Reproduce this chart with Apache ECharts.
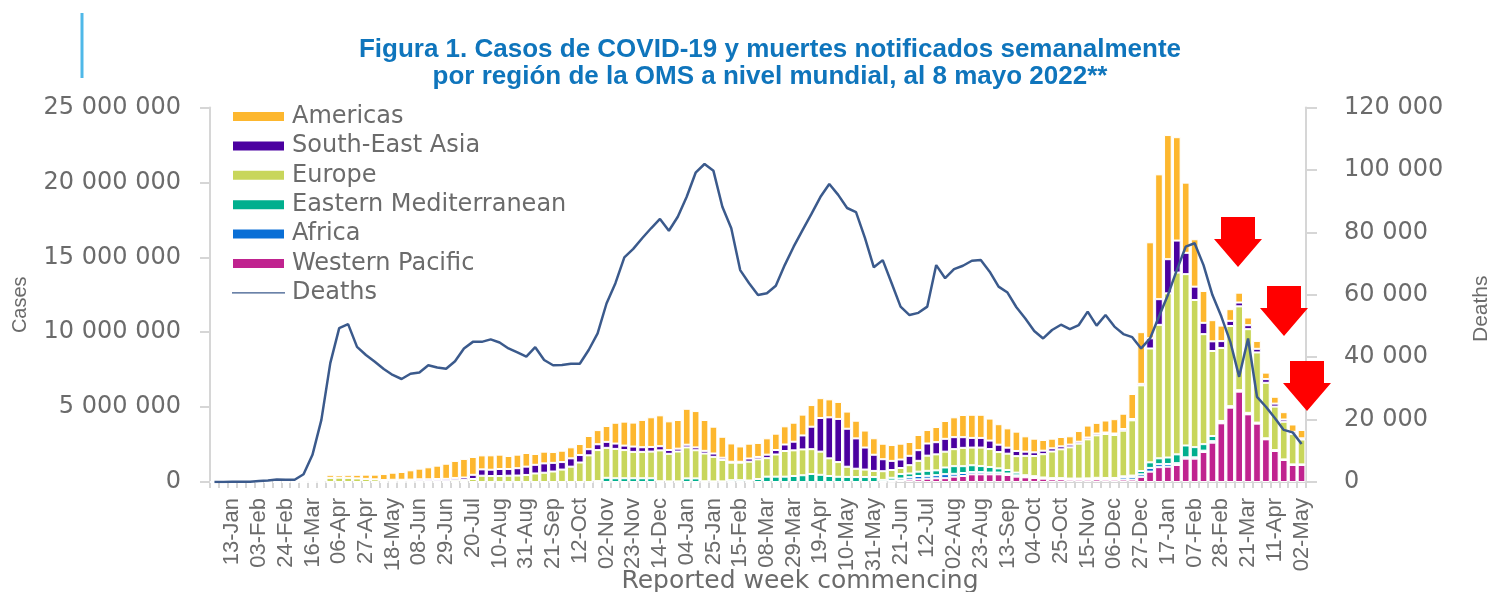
<!DOCTYPE html>
<html>
<head>
<meta charset="utf-8">
<title>Figura 1</title>
<script src="https://cdn.jsdelivr.net/npm/echarts@6/dist/echarts.min.js"></script>
<style>
html, body { margin: 0; padding: 0; background: #fff; }
#chart { width: 1492px; height: 592px; }
</style>
</head>
<body>
<div id="chart"></div>
<script>
var weeks = [
  "30-Dec","06-Jan","13-Jan","20-Jan","27-Jan","03-Feb","10-Feb","17-Feb","24-Feb","02-Mar","09-Mar","16-Mar","23-Mar","30-Mar","06-Apr","13-Apr","20-Apr","27-Apr","04-May","11-May","18-May","25-May","01-Jun","08-Jun","15-Jun","22-Jun","29-Jun","06-Jul","13-Jul","20-Jul","27-Jul","03-Aug","10-Aug","17-Aug","24-Aug","31-Aug","07-Sep","14-Sep","21-Sep","28-Sep","05-Oct","12-Oct","19-Oct","26-Oct","02-Nov","09-Nov","16-Nov","23-Nov","30-Nov","07-Dec","14-Dec","21-Dec","28-Dec",
  "04-Jan","11-Jan","18-Jan","25-Jan","01-Feb","08-Feb","15-Feb","22-Feb","01-Mar","08-Mar","15-Mar","22-Mar","29-Mar","05-Apr","12-Apr","19-Apr","26-Apr","03-May","10-May","17-May","24-May","31-May","07-Jun","14-Jun","21-Jun","28-Jun","05-Jul","12-Jul","19-Jul","26-Jul","02-Aug","09-Aug","16-Aug","23-Aug","30-Aug","06-Sep","13-Sep","20-Sep","27-Sep","04-Oct","11-Oct","18-Oct","25-Oct","01-Nov","08-Nov","15-Nov","22-Nov","29-Nov","06-Dec","13-Dec","20-Dec","27-Dec",
  "03-Jan","10-Jan","17-Jan","24-Jan","31-Jan","07-Feb","14-Feb","21-Feb","28-Feb","07-Mar","14-Mar","21-Mar","28-Mar","04-Apr","11-Apr","18-Apr","25-Apr","02-May"
];

// cases per week, in thousands
var westernPacific = [
  0,0,0,0,0,0,0,0,0,0,0,0,0,0,0,0,0,0,0,0,0,0,0,0,0,0,0,0,0,0,0,0,0,0,0,0,0,0,0,0,
  0,0,0,0,0,0,0,0,0,0,0,0,0,0,0,0,0,0,0,0,0,0,0,0,0,0,0,0,0,0,0,0,0,0,0,0,0,
  100,156,178,222,245,256,356,400,512,512,512,512,467,356,311,267,222,178,178,150,150,150,170,150,150,160,160,345,690,990,1023,1135,1558,1558,2003,2626,3916,4962,6030,4517,3894,2848,2069,1468,1135,1135
];
var africa = [
  0,0,0,0,0,0,0,0,0,0,0,0,0,0,0,0,0,0,0,0,0,0,0,0,0,0,0,0,0,0,0,0,0,0,0,0,0,0,0,0,
  0,0,0,0,0,0,0,0,0,0,0,0,0,0,0,0,0,0,0,0,0,0,0,0,0,0,0,0,0,0,0,0,0,0,0,0,
  100,134,167,222,190,211,267,190,200,150,150,120,120,100,90,60,60,40,40,40,40,40,40,50,60,60,150,180,167,250,200,178,120,90,90,90,100,60,40,40,40,30,30,30,20,20,20
];
var easternMed = [
  0,0,0,0,0,0,0,0,0,0,0,0,0,0,0,0,0,0,0,0,0,0,0,0,0,0,0,0,0,0,0,0,0,0,0,0,0,0,0,0,0,0,0,
  60,280,250,250,250,250,250,50,40,40,240,240,50,40,40,120,120,100,200,356,356,356,400,450,534,480,400,350,340,330,330,330,140,180,300,245,290,334,322,445,512,456,456,400,367,278,234,180,80,60,40,40,40,40,40,50,60,60,60,70,90,222,373,390,434,590,790,680,434,345,100,60,60,60,40,40,30,20,20,20
];
var europe = [
  0,0,0,0,0,0,0,0,0,0,0,0,
  120,280,290,280,240,210,180,130,110,100,90,90,80,90,80,120,130,200,420,400,400,420,430,470,570,620,700,830,1024,1300,1780,2070,2000,1960,1880,1760,1760,1780,2060,1840,1995,2070,1880,1850,1640,1430,1170,1170,1257,1313,1235,1480,1713,1713,1724,1657,1546,1180,980,680,556,500,410,580,520,400,556,723,1012,1068,1057,1135,1224,1180,1235,1200,1090,1090,1100,1296,1348,1556,1778,1922,2084,2329,2608,2835,2934,2867,3046,3686,5718,7600,8911,10958,12137,11437,9823,7343,5674,4873,5351,5596,5585,4684,3705,2904,2514,2025,1660
];
var southEastAsia = [
  0,0,0,0,0,0,0,0,0,0,0,0,0,0,0,0,0,0,0,0,
  40,50,70,90,100,110,130,150,170,280,423,420,467,445,490,556,578,623,578,500,556,500,410,390,400,356,300,356,310,310,280,256,190,178,190,178,222,150,60,60,211,160,234,300,434,578,934,1500,2247,2737,2880,2536,2025,1470,1080,800,610,567,623,712,812,812,857,800,712,645,645,567,490,400,345,278,245,234,211,200,180,130,120,120,100,100,110,90,100,680,1713,2280,2136,1424,890,757,645,456,345,256,267,245,245,200,150,150,80
];
var americas = [
  0,0,0,0,0,0,0,0,0,0,0,0,0,
  200,180,200,240,280,310,400,470,520,620,710,800,890,1010,1137,1240,1190,934,960,958,870,905,909,722,782,722,760,734,735,880,945,1057,1390,1600,1600,1825,1980,2060,1913,1913,2400,2425,2060,1790,1400,1224,1023,990,934,1090,1090,1213,1268,1390,1446,1324,1200,1135,1146,1180,1135,1100,1035,1057,1057,923,1012,900,1012,1190,1324,1480,1546,1546,1468,1368,1290,1290,1023,912,712,645,623,556,712,800,712,800,957,1023,1668,3450,6408,8333,8288,6900,4684,3160,2125,1413,1035,779,656,512,523,434,456,490,490,556
];
var deaths = [
  0,10,50,60,100,300,500,800,700,700,2500,8700,19900,38100,49300,50600,43300,40700,38500,36200,34300,33000,34700,35100,37400,36700,36300,38700,42800,44900,44900,45700,44700,42800,41500,40200,43200,39100,37400,37500,37900,37900,42300,47600,57200,63700,72000,74700,78100,81300,84300,80500,85000,91400,99100,101900,99700,88200,81300,67900,63700,59900,60500,62900,69500,75400,80700,85900,91300,95500,92000,87800,86500,78200,68800,71100,63700,56200,53500,54200,56200,69500,65300,68200,69300,70900,71100,67400,62600,60700,56000,52400,48400,46000,48700,50400,49000,50300,54600,50100,53500,49800,47400,46400,42800,46000,53000,59900,67900,75400,76500,69500,59900,53000,45000,33700,46000,27300,24100,20500,16700,15900,12200
];

var legendNames = ["Americas", "South-East Asia", "Europe", "Eastern Mediterranean", "Africa", "Western Pacific"];
var titleLines = "Figura 1. Casos de COVID-19 y muertes notificados semanalmente\npor región de la OMS a nivel mundial, al 8 mayo 2022**";

var textColor = "#6b6b6b";
var axisColor = "#d6d6d6";

function thousands(arr) {
  return arr.map(function(v) { return v * 1000; });
}
function spaced(v) {
  return String(v).replace(/\B(?=(\d{3})+$)/g, " ");
}
function barSeries(name, values, color) {
  return {
    name: name,
    type: "bar",
    stack: "cases",
    data: thousands(values),
    barCategoryGap: "14%",
    itemStyle: { color: color, borderColor: "#fff", borderWidth: 1 }
  };
}
// the red arrows in the picture, top centre of the shaft and tip
function arrow(cx, top) {
  return {
    type: "polygon",
    z: 100,
    shape: { points: [
      [cx - 17, top], [cx + 17, top], [cx + 17, top + 22], [cx + 24, top + 22],
      [cx, top + 50], [cx - 24, top + 22], [cx - 17, top + 22]
    ] },
    style: { fill: "#ff0000" }
  };
}

var chart = echarts.init(document.getElementById("chart"));
chart.setOption({
  backgroundColor: "#fff",
  animation: false,
  title: {
    text: titleLines,
    left: 765,
    top: 31,
    textAlign: "center",
    textStyle: {
      fontFamily: "Liberation Sans",
      fontSize: 26,
      fontWeight: "bold",
      color: "#0f75bc",
      lineHeight: 27
    }
  },
  legend: {
    // deaths gets a thin bar as icon, the line series default would add a dot
    data: legendNames.concat([{ name: "Deaths", icon: "path://M0 0H1V0.1H0ZM0 44H100V56H0ZM0 99.9H1V100H0Z" }]),
    orient: "vertical",
    left: 231,
    top: 104.5,
    padding: 0,
    icon: "rect",
    symbolKeepAspect: false,
    itemWidth: 53,
    itemHeight: 11,
    itemGap: 5.4,
    textStyle: { fontFamily: "DejaVu Sans", fontSize: 24, color: textColor, padding: [0, 0, 0, 2] }
  },
  grid: { left: 210, right: 186, top: 107.5, bottom: 110, outerBoundsMode: "none" },
  xAxis: {
    type: "category",
    data: weeks,
    name: "Reported week commencing",
    nameLocation: "middle",
    nameGap: 87,
    nameMoveOverlap: false,
    nameTextStyle: { fontFamily: "DejaVu Sans", fontSize: 25, color: textColor, padding: [0, 0, 0, 84] },
    axisLine: { lineStyle: { color: axisColor, width: 2 } },
    axisTick: { show: true, interval: 0, length: 6, lineStyle: { color: axisColor, width: 2 } },
    axisLabel: {
      rotate: 90,
      margin: 16,
      padding: [6, 0, 0, 0],
      fontFamily: "Liberation Sans",
      fontSize: 22,
      color: textColor,
      interval: function(i) { return (i - 2) % 3 === 0; }
    }
  },
  yAxis: [
    {
      type: "value",
      min: 0,
      max: 25000000,
      interval: 5000000,
      name: "Cases",
      nameLocation: "middle",
      nameGap: 180,
      nameTextStyle: { fontFamily: "Liberation Sans", fontSize: 20, color: textColor, padding: [0, 20, 0, 0] },
      splitLine: { show: false },
      axisLine: { show: true, lineStyle: { color: axisColor, width: 2 } },
      axisTick: { show: true, length: 10, lineStyle: { color: axisColor, width: 2 } },
      axisLabel: { margin: 29, padding: [4, 0, 0, 0], fontFamily: "DejaVu Sans", fontSize: 24, color: textColor, formatter: spaced }
    },
    {
      type: "value",
      min: 0,
      max: 120000,
      interval: 20000,
      name: "Deaths",
      nameLocation: "middle",
      nameGap: 165,
      nameRotate: 90,
      nameTextStyle: { fontFamily: "Liberation Sans", fontSize: 21, color: textColor, padding: [0, 28, 0, 0] },
      splitLine: { show: false },
      axisLine: { show: true, lineStyle: { color: axisColor, width: 2 } },
      axisTick: { show: true, length: 11, lineStyle: { color: axisColor, width: 2 } },
      axisLabel: { margin: 38, padding: [4, 0, 0, 0], fontFamily: "DejaVu Sans", fontSize: 24, color: textColor, formatter: spaced }
    }
  ],
  series: [
    barSeries("Western Pacific", westernPacific, "#c0238f"),
    barSeries("Africa", africa, "#0a6fd6"),
    barSeries("Eastern Mediterranean", easternMed, "#00af8e"),
    barSeries("Europe", europe, "#c8d65b"),
    barSeries("South-East Asia", southEastAsia, "#4b00a0"),
    barSeries("Americas", americas, "#fdb72e"),
    {
      name: "Deaths",
      type: "line",
      yAxisIndex: 1,
      data: deaths,
      symbol: "none",
      z: 10,
      lineStyle: { color: "#3b5a8c", width: 2.5 },
      itemStyle: { color: "#3b5a8c" }
    }
  ],
  graphic: [
    { type: "line", z: 100, shape: { x1: 82, y1: 13, x2: 82, y2: 78 }, style: { stroke: "#4fb8e8", lineWidth: 3 } },
    arrow(1238, 217),
    arrow(1284, 286),
    arrow(1307, 361)
  ]
});
</script>
</body>
</html>
